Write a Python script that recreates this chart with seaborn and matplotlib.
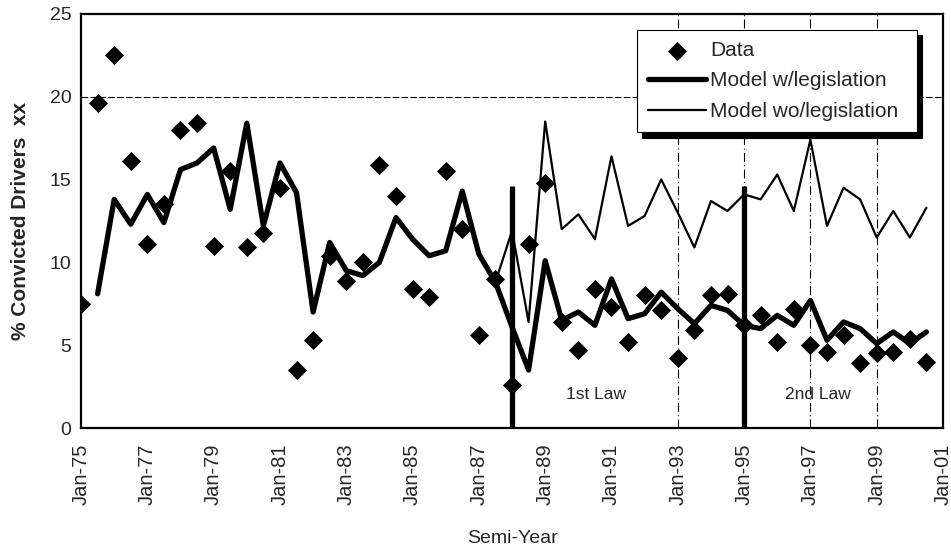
import numpy as np
import pandas as pd
import matplotlib
matplotlib.use("Agg")
import matplotlib.pyplot as plt
import seaborn as sns

# Semi-annual periods Jan-75 .. Jul-00 (index i -> 1975 + i/2)
period_index = list(range(52))

data_vals = [7.5, 19.6, 22.5, 16.1, 11.1, 13.5, 18.0, 18.4, 11.0, 15.5,
             10.9, 11.8, 14.5, 3.5, 5.3, 10.4, 8.9, 10.0, 15.9, 14.0,
             8.4, 7.9, 15.5, 12.0, 5.6, 9.0, 2.6, 11.1, 14.8, 6.4,
             4.7, 8.4, 7.3, 5.2, 8.0, 7.1, 4.2, 5.9, 8.0, 8.1,
             6.2, 6.8, 5.2, 7.2, 5.0, 4.6, 5.6, 3.9, 4.5, 4.6,
             5.4, 4.0]

# model values start at Jul-75 (index 1)
model_with = [8.1, 13.8, 12.3, 14.1, 12.4, 15.6, 16.0, 16.9, 13.2,
              18.4, 12.2, 16.0, 14.2, 7.0, 11.2, 9.5, 9.2, 10.0, 12.7,
              11.4, 10.4, 10.7, 14.3, 10.5, 8.8, 6.1, 3.5, 10.1, 6.5,
              7.0, 6.2, 9.0, 6.6, 6.9, 8.2, 7.2, 6.3, 7.4, 7.1,
              6.2, 6.0, 6.8, 6.2, 7.7, 5.3, 6.4, 6.0, 5.1, 5.8,
              5.1, 5.8]

model_without = [8.1, 13.8, 12.3, 14.1, 12.4, 15.6, 16.0, 16.9, 13.2,
                 18.4, 12.2, 16.0, 14.2, 7.0, 11.2, 9.5, 9.2, 10.0, 12.7,
                 11.4, 10.4, 10.7, 14.3, 10.5, 8.8, 11.9, 6.4, 18.5, 12.0,
                 12.9, 11.4, 16.4, 12.2, 12.8, 15.0, 13.0, 10.9, 13.7, 13.1,
                 14.1, 13.8, 15.3, 13.1, 17.4, 12.2, 14.5, 13.8, 11.5, 13.1,
                 11.5, 13.3]

tick_years = list(range(1975, 2002, 2))
tick_labels = ["Jan-%02d" % (y % 100) for y in tick_years]

law_years = [1988.0, 1995.0]
law_labels = ["1st Law", "2nd Law"]
law_label_x = [1990.53, 1997.23]

t_data = [1975 + i / 2 for i in period_index]
t_model = t_data[1:]

df_data = pd.DataFrame({"t": t_data, "v": data_vals})
df_model = pd.DataFrame({"t": t_model, "with": model_with, "without": model_without})

sns.set_style("white")
plt.rcParams["font.family"] = ["Liberation Sans", "DejaVu Sans"]

fig = plt.figure(figsize=(9.51, 5.53), dpi=100)
ax = fig.add_axes([0.0852, 0.226, 0.9064, 0.749])

# grid remnants
ax.axhline(20, color="black", lw=0.8, ls=(0, (6, 2)), zorder=0)
for gx in [1993, 1995, 1997, 1999]:
    ax.axvline(gx, color="black", lw=0.8, ls=(0, (8, 3, 1, 3)), zorder=0)

sns.lineplot(data=df_model, x="t", y="without", ax=ax, color="black",
             lw=1.6, label="Model wo/legislation", zorder=3)
sns.lineplot(data=df_model, x="t", y="with", ax=ax, color="black",
             lw=3.8, label="Model w/legislation", zorder=4)
sns.scatterplot(data=df_data, x="t", y="v", ax=ax, color="black",
                marker="D", s=95, edgecolor="black", linewidth=0,
                label="Data", zorder=5)

for lx in law_years:
    ax.vlines(lx, 0, 14.6, color="black", lw=3.8, zorder=6)
for lx, lt in zip(law_label_x, law_labels):
    ax.text(lx, 2.0, lt, fontsize=12.5, ha="center", va="center")

ax.set_xlim(1975, 2001)
ax.set_ylim(0, 25)
ax.set_xticks(tick_years)
ax.set_xticklabels(tick_labels, rotation=90, fontsize=14.5)
ax.set_yticks([0, 5, 10, 15, 20, 25])
ax.set_yticklabels(["0", "5", "10", "15", "20", "25"], fontsize=14)
ax.tick_params(axis="x", length=3, width=0.8, color="black", pad=8)
ax.tick_params(axis="y", length=3, width=0.8, color="black", pad=4)
ax.set_xlabel("Semi-Year", fontsize=14, labelpad=18)
ax.set_ylabel("% Convicted Drivers  xx", fontsize=15, fontweight="bold", labelpad=14)
for s in ax.spines.values():
    s.set_color("black")
    s.set_linewidth(1.6)

handles, labels = ax.get_legend_handles_labels()
order = [labels.index("Data"), labels.index("Model w/legislation"), labels.index("Model wo/legislation")]
leg = ax.legend([handles[i] for i in order], [labels[i] for i in order],
                loc="upper left", bbox_to_anchor=(0.645, 0.962, 0.325, 0.0),
                mode="expand", fontsize=15,
                frameon=True, fancybox=False,
                shadow={"color": "black", "alpha": 1, "ox": 3.8, "oy": -3.8},
                edgecolor="black", framealpha=1, handlelength=2.75,
                handletextpad=0.2, borderpad=0.55, labelspacing=0.55,
                borderaxespad=0)
leg.get_frame().set_linewidth(0.8)
leg.set_zorder(10)

fig.savefig("out.png", dpi=100)
